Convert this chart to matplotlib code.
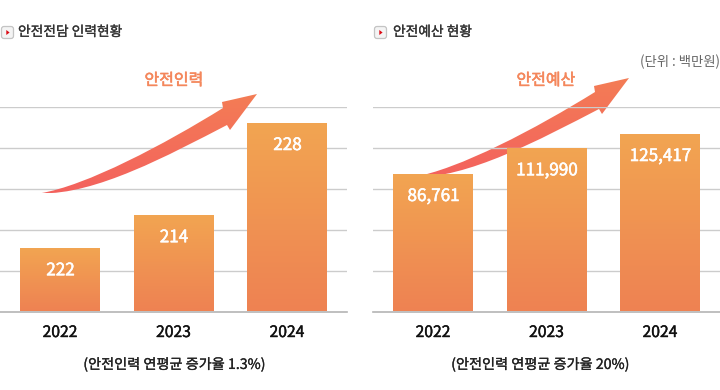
import matplotlib
matplotlib.use("Agg")
import matplotlib.pyplot as plt
import matplotlib.patheffects as pe
import numpy as np
from matplotlib.colors import LinearSegmentedColormap
from matplotlib.path import Path
from matplotlib.patches import PathPatch, FancyBboxPatch, Polygon
from matplotlib.transforms import Affine2D

plt.rcParams['font.family'] = ['Noto Sans CJK KR', 'DejaVu Sans']

W, H = 720, 390
years = ['2022', '2023', '2024']
# Bar heights as drawn (in gridline bands); the drawing is not proportional to the labels
heights_staff = [1.55, 2.36, 4.62]
heights_budget = [3.37, 4.00, 4.35]
labels_staff = ['222', '214', '228']
labels_budget = ['86,761', '111,990', '125,417']

fig = plt.figure(figsize=(W / 100, H / 100), dpi=100, facecolor='white')
px = Affine2D().scale(1, -1).translate(0, H)  # pixels from the top-left corner

bar_cmap = LinearSegmentedColormap.from_list('bar', ['#F2A551', '#EE8253'])
arrow_cmap = LinearSegmentedColormap.from_list('arrow', ['#F37D55', '#F4625E'])


def thicken(color, w=0.45):
    return [pe.withStroke(linewidth=w, foreground=color)]


def panel(left, heights, labels, order):
    ax = fig.add_axes([left / W, (H - 311.5) / H, 347 / W, 204 / H], facecolor='none')
    ax.set_zorder(order)
    ax.set_yticks(range(6))
    ax.set_yticklabels([])
    ax.set_xticks(range(3))
    ax.set_xticklabels(years, fontsize=11.3, color='#111111',
                       path_effects=thicken('#111111', 0.3))
    ax.tick_params(length=0)
    ax.tick_params(axis='x', pad=9)
    ax.grid(False)
    for s in ['top', 'left', 'right']:
        ax.spines[s].set_visible(False)
    ax.spines['bottom'].set_color('#b4b4b4')
    ax.spines['bottom'].set_linewidth(1.2)
    bars = ax.bar(range(3), heights, width=0.705, color='none', zorder=3)
    grad = np.linspace(0, 1, 128).reshape(-1, 1)
    for b, lab in zip(bars, labels):
        x0, w, h = b.get_x(), b.get_width(), b.get_height()
        im = ax.imshow(grad, cmap=bar_cmap, extent=(x0, x0 + w, 0, h),
                       aspect='auto', zorder=3)
        im.set_clip_path(b)
        ax.annotate(lab, (x0 + w / 2, h), xytext=(0.5, -22), textcoords='offset pixels',
                    ha='center', va='center', color='white', fontsize=12.3, zorder=4,
                    path_effects=thicken('white', 0.4))
    ax.set_xlim(-0.529, 2.529)
    ax.set_ylim(0, 5)
    for y in range(1, 6):
        ax.axhline(y, color='#cccccc', lw=1, zorder=1)
    return ax


def arrow(dx, dy, z):
    verts = [(40, 193.3),
             (86, 186), (165, 144), (223, 108),
             (222, 102), (257, 94), (230, 130), (227, 125),
             (169, 155), (95, 195), (40, 193.3), (40, 193.3)]
    codes = [Path.MOVETO,
             Path.CURVE4, Path.CURVE4, Path.CURVE4,
             Path.LINETO, Path.LINETO, Path.LINETO, Path.LINETO,
             Path.CURVE4, Path.CURVE4, Path.CURVE4, Path.CLOSEPOLY]
    path = Path([(x + dx, H - (y + dy)) for x, y in verts], codes)
    bg = fig.add_axes([0, 0, 1, 1], facecolor='none')
    bg.axis('off')
    bg.set_zorder(z)
    patch = PathPatch(path, fc='none', ec='none', transform=bg.transData)
    bg.add_patch(patch)
    g = np.linspace(0, 1, 128).reshape(-1, 1)
    im = bg.imshow(g, cmap=arrow_cmap, extent=(0, W, H - (193.5 + dy), H - (94 + dy)), aspect='auto')
    im.set_clip_path(patch)
    bg.set_xlim(0, W)
    bg.set_ylim(0, H)


def icon(x, y, ov):
    ov.add_patch(FancyBboxPatch((x + 1.5, y + 1.5), 10, 10, boxstyle='round,pad=1,rounding_size=2.5',
                                fc='#f4f4f4', ec='#c4c4c4', lw=0.9, transform=px))
    ov.add_patch(Polygon([(x + 5.3, y + 4), (x + 8.6, y + 6.5), (x + 5.3, y + 9)], fc='#dc0a14', ec='none', transform=px))


panel(0, heights_staff, labels_staff, 3)
panel(373, heights_budget, labels_budget, 3)
arrow(0, 0, 4)
arrow(372, -16, 2)

ov = fig.add_axes([0, 0, 1, 1], facecolor='none')
ov.axis('off')
ov.set_zorder(5)
icon(1, 26, ov)
icon(374, 26, ov)


def label(x, y, s, size, color, ha='left', w=0.4):
    ov.text(x, y, s, transform=px, fontsize=size, color=color, ha=ha, va='center',
            path_effects=thicken(color, w) if w else None)


label(18, 32, '안전전담 인력현황', 9.9, '#333333', w=0.2)
label(393, 32, '안전예산 현황', 9.9, '#333333', w=0.2)
label(174, 80.5, '안전인력', 11.5, '#F4875C', 'center', 0.4)
label(546, 80.5, '안전예산', 11.5, '#F4875C', 'center', 0.4)
label(720, 61.5, '(단위 : 백만원)', 9.6, '#666666', 'right', 0)
label(174, 364.5, '(안전인력 연평균 증가율 1.3%)', 10.2, '#222222', 'center', 0.2)
label(540, 364.5, '(안전인력 연평균 증가율 20%)', 10.2, '#222222', 'center', 0.2)

fig.savefig('out.png', dpi=100)
